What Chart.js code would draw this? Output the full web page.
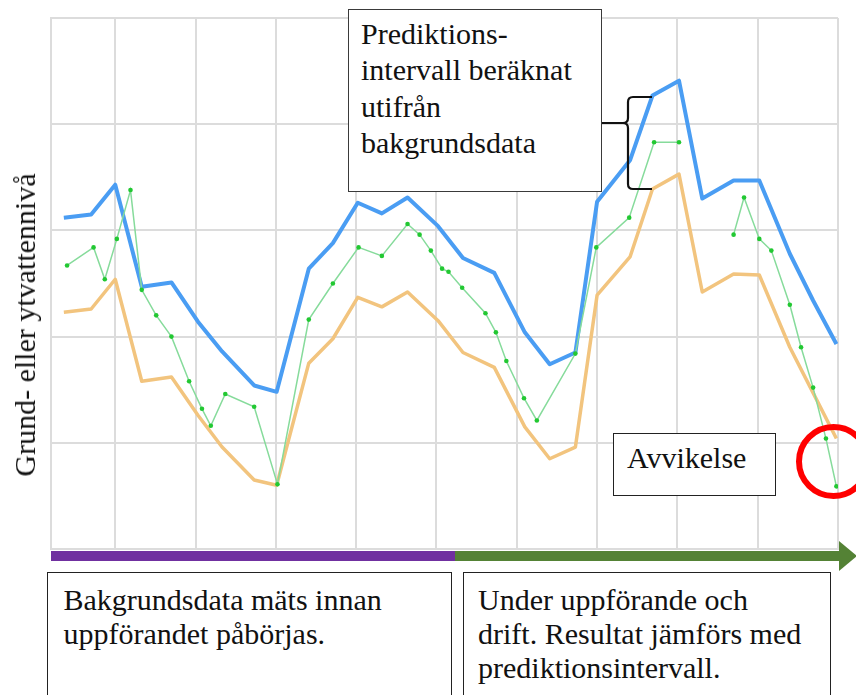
<!DOCTYPE html>
<html>
<head>
<meta charset="utf-8">
<script src="https://cdn.jsdelivr.net/npm/chart.js@4.4.1/dist/chart.umd.min.js"></script>
<style>
body { margin:0; background:#fff; }
#wrap { position:relative; width:856px; height:695px; overflow:hidden; font-family:"Liberation Serif","Times New Roman",serif; color:#111; }
#myChart { position:absolute; left:0; top:0; }
#overlay { position:absolute; left:0; top:0; pointer-events:none; }
.box { position:absolute; background:#fff; border:1.5px solid #222; box-sizing:border-box; font-size:30px; white-space:nowrap; }
#boxPred { left:348px; top:9px; width:254px; height:183px; padding:6px 0 0 12px; line-height:36.3px; border-color:#3a3a3a; }
#boxAvv { left:613px; top:433px; width:163px; height:63px; padding:6px 0 0 13px; line-height:36px; }
#boxBefore { left:47px; top:572px; width:405px; height:140px; padding:9.5px 0 0 15.5px; line-height:34px; }
#boxAfter { left:463px; top:572px; width:368px; height:140px; padding:9.5px 0 0 14px; line-height:34px; }
#yTitle { position:absolute; left:25px; top:325px; font-size:30px; line-height:30px; white-space:nowrap; transform:translate(-50%,-50%) rotate(-90deg); }
.bar { position:absolute; top:551px; height:10px; }
#barBefore { left:51px; width:404px; background:#7030a0; }
#barAfter { left:455px; width:386px; background:#548235; }
#arrowHead { position:absolute; left:839px; top:541px; width:0; height:0; border-top:15px solid transparent; border-bottom:15px solid transparent; border-left:18px solid #548235; }
</style>
</head>
<body>
<div id="wrap">
	<canvas id="myChart" width="856" height="695"></canvas>
	<div id="yTitle">Grund- eller ytvattennivå</div>
	<div class="bar" id="barBefore"></div>
	<div class="bar" id="barAfter"></div>
	<div id="arrowHead"></div>
	<svg id="overlay" width="856" height="695">
		<path d="M 652 97 L 633 97 Q 628 97 628 102 L 628 118 Q 628 123 623 123 Q 628 123 628 128 L 628 184 Q 628 189 633 189 L 652 189 M 602 123 L 623 123" fill="none" stroke="#111" stroke-width="2.2"/>
		<circle cx="833.5" cy="461.5" r="34.5" fill="none" stroke="#ff0000" stroke-width="6"/>
	</svg>
	<div class="box" id="boxPred">Prediktions-<br>intervall beräknat<br>utifrån<br>bakgrundsdata</div>
	<div class="box" id="boxAvv">Avvikelse</div>
	<div class="box" id="boxBefore">Bakgrundsdata mäts innan<br>uppförandet påbörjas.</div>
	<div class="box" id="boxAfter">Under uppförande och<br>drift. Resultat jämförs med<br>prediktionsintervall.</div>
</div>
<script>
// prediktionsintervall (övre / undre gräns)
var bandX = [0.36,0.70,1.00,1.33,1.70,2.03,2.33,2.73,3.01,3.41,3.71,4.02,4.32,4.64,5.02,5.33,5.72,6.10,6.41,6.73,7.00,7.41,7.69,8.02,8.31,8.70,9.02,9.40,9.69,9.98];
var upperY = [31.2,31.5,34.3,24.7,25.1,21.4,18.6,15.4,14.8,26.4,28.8,32.6,31.6,33.1,30.4,27.4,26.0,20.4,17.4,18.5,32.7,36.6,42.7,44.1,33.0,34.7,34.7,27.8,23.4,19.3];
var lowerY = [22.3,22.6,25.4,15.8,16.2,12.6,9.6,6.5,6.0,17.5,19.8,23.7,22.8,24.2,21.5,18.5,17.1,11.5,8.5,9.6,23.9,27.5,33.9,35.3,24.2,25.9,25.8,19.0,14.7,10.4];

// uppmätta nivåer (null = avbrott)
var obsX = [0.40,0.73,0.87,1.02,1.19,1.33,1.51,1.70,1.92,2.08,2.19,2.37,2.73,3.02,3.41,3.71,4.03,4.32,4.64,4.79,4.93,5.07,5.15,5.32,5.61,5.74,5.87,6.09,6.25,6.73,6.99,7.40,7.71,8.02,8.36,8.70,8.83,9.02,9.17,9.40,9.54,9.69,9.85,9.98];
var obsY = [26.7,28.4,25.4,29.2,33.8,24.4,22.0,20.0,15.8,13.2,11.6,14.6,13.4,6.1,21.6,25.0,28.4,27.6,30.6,29.6,28.1,26.4,26.1,24.6,22.2,20.4,17.7,14.2,12.1,18.4,28.4,31.2,38.3,38.3,null,29.6,33.1,29.2,28.1,23.0,19.0,15.2,10.4,5.9];

var xTicks = [1,2,3,4,5,6,7,8,9,10];
var yTicks = [0,10,20,30,40,50];

function _toPoints(xs, ys) {
	var pts = [];
	for (var i = 0; i < xs.length; i++) {
		pts.push({ x : xs[i], y : ys[i] });
	}
	return pts;
}

var gridColor = '#dcdcdc';

var _config = {
	type : 'line',
	data : {
		datasets : [
			{
				data : _toPoints(obsX, obsY),
				borderColor : '#86db9b',
				borderWidth : 1.5,
				backgroundColor : '#22c832',
				pointRadius : 2.3,
				pointBorderWidth : 0,
				spanGaps : false,
				tension : 0,
				order : 0
			},
			{
				data : _toPoints(bandX, upperY),
				borderColor : '#4a9df3',
				borderWidth : 4,
				borderJoinStyle : 'round',
				pointRadius : 0,
				tension : 0,
				order : 1
			},
			{
				data : _toPoints(bandX, lowerY),
				borderColor : '#f2c47e',
				borderWidth : 3.5,
				borderJoinStyle : 'round',
				pointRadius : 0,
				tension : 0,
				order : 2
			}
		]
	},
	options : {
		responsive : false,
		animation : false,
		layout : { padding : { left : 51, top : 18, right : 18, bottom : 146 } },
		plugins : {
			legend : { display : false },
			tooltip : { enabled : false }
		},
		scales : {
			x : {
				type : 'linear',
				min : 0.2,
				max : 10,
				afterBuildTicks : function(axis) {
					axis.ticks = xTicks.map(function(v) { return { value : v }; });
				},
				ticks : { display : false },
				grid : { color : gridColor, lineWidth : 2, drawTicks : false },
				border : { color : gridColor, width : 2 }
			},
			y : {
				min : 0,
				max : 50,
				afterBuildTicks : function(axis) {
					axis.ticks = yTicks.map(function(v) { return { value : v }; });
				},
				ticks : { display : false },
				grid : { color : gridColor, lineWidth : 2, drawTicks : false },
				border : { color : gridColor, width : 2 }
			}
		}
	}
};

var myChart = new Chart(document.getElementById('myChart'), _config);
</script>
</body>
</html>
